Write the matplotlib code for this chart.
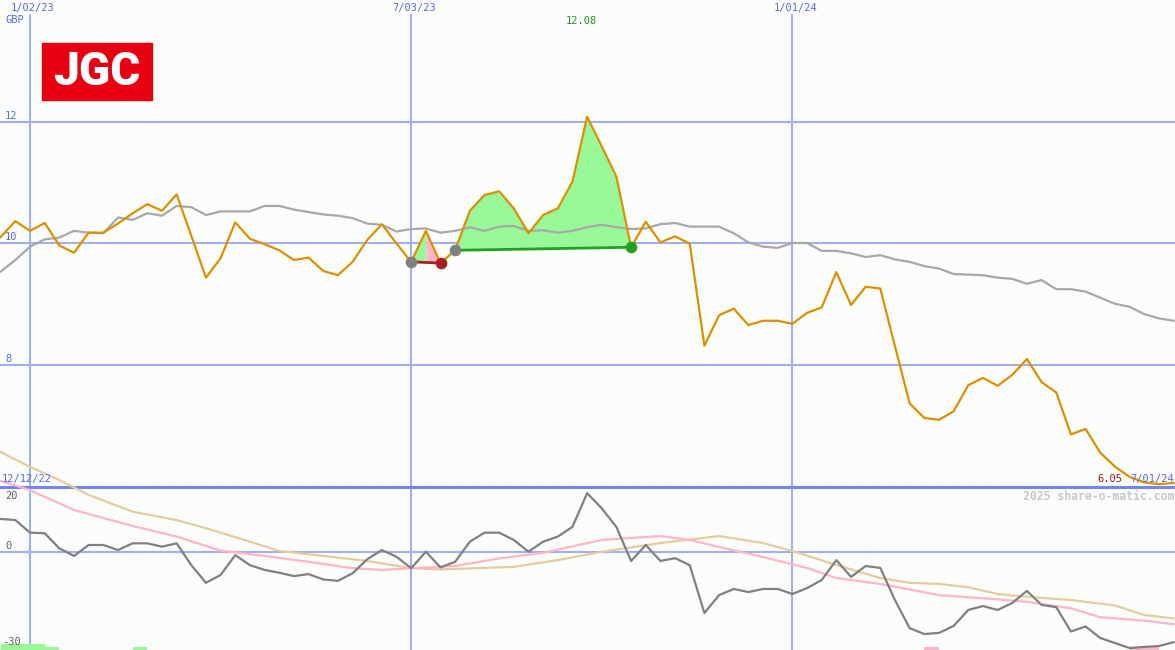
import numpy as np
import matplotlib.pyplot as plt
from matplotlib.patches import Rectangle

W, H = 1175, 650

# weekly closes, 19 Dec 2022 .. 1 Jul 2024 (GBP)
price = [10.10, 10.36, 10.20, 10.33, 9.96, 9.84, 10.17, 10.17, 10.32, 10.49,
         10.64, 10.53, 10.80, 10.12, 9.43, 9.75, 10.34, 10.07, 9.98, 9.88,
         9.72, 9.76, 9.54, 9.47, 9.69, 10.05, 10.31, 9.99, 9.69, 10.20,
         9.67, 9.88, 10.53, 10.79, 10.85, 10.57, 10.16, 10.46, 10.57, 11.01,
         12.08, 11.59, 11.09, 9.93, 10.35, 10.01, 10.11, 9.99, 8.31, 8.81,
         8.92, 8.65, 8.72, 8.72, 8.67, 8.85, 8.94, 9.52, 8.98, 9.28,
         9.25, 8.30, 7.36, 7.12, 7.09, 7.23, 7.66, 7.78, 7.65, 7.83,
         8.09, 7.71, 7.54, 6.85, 6.94, 6.55, 6.32, 6.15, 6.06, 6.03,
         6.05]
avg = [9.53, 9.72, 9.94, 10.06, 10.09, 10.20, 10.17, 10.16, 10.42, 10.38,
       10.49, 10.45, 10.61, 10.59, 10.46, 10.52, 10.52, 10.52, 10.61, 10.61,
       10.55, 10.51, 10.47, 10.45, 10.41, 10.32, 10.30, 10.19, 10.23, 10.24,
       10.17, 10.20, 10.26, 10.20, 10.27, 10.28, 10.20, 10.21, 10.17, 10.20,
       10.26, 10.30, 10.26, 10.23, 10.24, 10.31, 10.33, 10.27, 10.27, 10.27,
       10.16, 10.01, 9.94, 9.92, 10.00, 10.00, 9.87, 9.87, 9.83, 9.77,
       9.80, 9.73, 9.69, 9.62, 9.58, 9.49, 9.48, 9.47, 9.43, 9.41,
       9.33, 9.39, 9.24, 9.24, 9.20, 9.10, 9.00, 8.95, 8.83, 8.76,
       8.72]
osc = [11.7, 11.3, 6.8, 6.6, 1.2, -1.5, 2.4, 2.4, 0.6, 3.0,
       3.0, 1.8, 3.0, -4.8, -11.1, -8.3, -1.2, -4.8, -6.5, -7.5,
       -8.7, -8.0, -9.9, -10.4, -7.7, -2.7, 0.6, -1.8, -5.9, 0.0,
       -5.6, -3.6, 3.6, 6.8, 6.8, 4.2, 0.0, 3.6, 5.4, 8.9,
       20.9, 15.5, 8.8, -3.3, 2.4, -3.3, -2.3, -4.8, -21.9, -15.5,
       -13.3, -14.4, -13.3, -13.3, -15.1, -13.0, -10.1, -3.0, -9.0, -5.1,
       -5.8, -17.3, -27.3, -29.4, -29.0, -26.5, -20.8, -19.4, -20.8, -18.3,
       -14.0, -19.0, -19.8, -28.5, -26.7, -30.8, -32.6, -34.4, -34.0, -33.7,
       -32.3]
pink_wk = [0, 2, 5, 9, 12, 15, 18, 21, 24, 26, 28, 31, 34, 37, 41, 44, 45, 47,
           49, 52, 55, 57, 60, 64, 68, 70, 73, 75, 78, 80]
pink_val = [25.3, 22.0, 14.9, 9.2, 5.4, 0.4, -1.5, -3.6, -5.9, -6.5, -5.9, -5.1,
            -2.4, -0.4, 4.2, 5.25, 5.6, 4.2, 1.7, -1.9, -5.8, -9.4, -11.5, -15.5,
            -17.0, -17.9, -20.2, -23.4, -24.6, -25.9]
tan_wk = [0, 2, 4, 6, 9, 12, 14, 17, 19, 22, 25, 28, 30, 35, 38, 41, 45, 49, 52,
          54, 57, 60, 62, 64, 66, 68, 70, 73, 76, 78, 80]
tan_val = [35.6, 30.3, 25.6, 20.3, 14.3, 11.3, 8.4, 3.6, 0.25, -1.5, -3.3, -5.9,
           -6.3, -5.4, -3.0, 0.0, 3.1, 5.6, 3.1, 0.25, -4.75, -9.4, -11.1, -11.5,
           -12.7, -15.1, -16.1, -17.25, -19.2, -22.6, -23.8]

# trades: (buy week, sell week)
trades = [(28, 30), (31, 43)]
# signal bars at bottom
sig_wk = [0, 1, 2, 3, 9, 63, 77, 78]
sig_h = [2.1, 2.1, 2.1, 1.2, 1.2, 1.2, 0.9, 0.9]
sig_col = ['#98f898'] * 5 + ['#ffb4c8'] * 3

date_wk = [2, 28, 54]
date_lbl = ['1/02/23', '7/03/23', '1/01/24']

wk = np.arange(len(price))
price = np.array(price)

bg = '#fbfdfb'
grid = '#a4aef4'
blue_txt = '#5868e8'

fig = plt.figure(figsize=(W / 100, H / 100), dpi=100, facecolor=bg)

def px(x, y):
    return x / W, 1 - y / H

xlim = (-0.048, 80.1)

########## price panel ##########
ax = fig.add_axes([0, (H - 487) / H, 1, 487 / H])
ax.set_facecolor(bg)
ax.set_xlim(*xlim)
ax.set_ylim(5.984, 14.0)
ax.axis('off')
for lv in [12, 10, 8]:
    ax.axhline(lv, color=grid, lw=1.5, zorder=1)
for d in date_wk:
    ax.axvline(d, ymin=0, ymax=0.969, color=grid, lw=1.5, zorder=1)

for b, s in trades:
    base = np.interp(wk[b:s + 1], [b, s], [price[b], price[s]])
    if s - b == 2:
        ax.fill_between(wk[b:b + 2], price[b:b + 2], base[:2], color='#98f898', lw=0, zorder=2)
        ax.fill_between(wk[b + 1:s + 1], price[b + 1:s + 1], base[1:], color='#ffb6c8', lw=0, zorder=2)
        ax.plot([b, s], [price[b], price[s]], color='#a82020', lw=2, zorder=3)
    else:
        ax.fill_between(wk[b:s + 1], price[b:s + 1], base, color='#98f898', lw=0, zorder=2)
        ax.plot([b, s], [price[b], price[s]], color='#22a022', lw=2, zorder=3)

ax.plot(wk, avg, color='#a8a8a8', lw=1.6, zorder=4)
ax.plot(wk, price, color='#dc9000', lw=1.6, zorder=5)

ax.scatter([28, 31], price[[28, 31]], s=70, color='#808080', zorder=6, lw=0)
ax.scatter([30], price[[30]], s=70, color='#a82020', zorder=6, lw=0)
ax.scatter([43], price[[43]], s=70, color='#22a022', zorder=6, lw=0)

########## oscillator panel ##########
ax2 = fig.add_axes([0, 0, 1, 210 / H])
ax2.set_facecolor('none')
ax2.patch.set_alpha(0)
ax2.set_xlim(*xlim)
ax2.set_ylim(-35.1, 39.9)
ax2.axis('off')
ax2.axhline(0, color=grid, lw=1.5, zorder=1)
for d in date_wk:
    ax2.axvline(d, ymin=0, ymax=0.776, color=grid, lw=1.5, zorder=1)
ax2.axhline(23.1, color='#7484f0', lw=2.2, zorder=2)
ax2.plot(tan_wk, tan_val, color='#e4cc9c', lw=1.6, zorder=3)
ax2.plot(pink_wk, pink_val, color='#ffb4c8', lw=1.6, zorder=3)
ax2.plot(wk, osc, color='#808080', lw=1.6, zorder=4)
ax2.bar(sig_wk, sig_h, bottom=-35.1, width=1.0, align='edge', color=sig_col, zorder=2)

########## texts ##########
mono = 'DejaVu Sans Mono'
for d, lbl in zip(date_wk, date_lbl):
    x = 0.7 + d * 14.66
    fig.text(*px(x + 3, 8), lbl, color=blue_txt, fontsize=7.5, family=mono, ha='center', va='center')
fig.text(*px(5, 20), 'GBP', color=blue_txt, fontsize=7.5, family=mono, va='center')
fig.text(*px(5, 116), '12', color=blue_txt, fontsize=7.5, family=mono, va='center')
fig.text(*px(5, 237), '10', color=blue_txt, fontsize=7.5, family=mono, va='center')
fig.text(*px(5, 359), '8', color=blue_txt, fontsize=7.5, family=mono, va='center')
fig.text(*px(581, 21), '12.08', color='#209020', fontsize=7.5, family=mono, ha='center', va='center')
fig.text(*px(2, 479), '12/12/22', color=blue_txt, fontsize=7.5, family=mono, va='center')
fig.text(*px(1122, 479), '6.05', color='#a01818', fontsize=7.5, family=mono, ha='right', va='center')
fig.text(*px(1174, 479), '7/01/24', color=blue_txt, fontsize=7.5, family=mono, ha='right', va='center')
fig.text(*px(1174, 496), '2025 share-o-matic.com', color='#c8c8c8', fontsize=8.3,
         family=mono, weight='bold', ha='right', va='center')
fig.text(*px(5, 496), '20', color='#606060', fontsize=7.5, family=mono, va='center')
fig.text(*px(5, 546), '0', color='#606060', fontsize=7.5, family=mono, va='center')
fig.text(*px(2, 642), '-30', color='#606060', fontsize=7.5, family=mono, va='center')

# logo
fig.patches.append(Rectangle(px(42, 100), 110 / W, 57 / H, transform=fig.transFigure,
                             color='#e60012', zorder=10))
fig.text(*px(97, 72), 'JGC', color='white', fontsize=33, weight='heavy', family='Roboto',
         ha='center', va='center', zorder=11)

fig.savefig('out.png', dpi=100, facecolor=bg)
